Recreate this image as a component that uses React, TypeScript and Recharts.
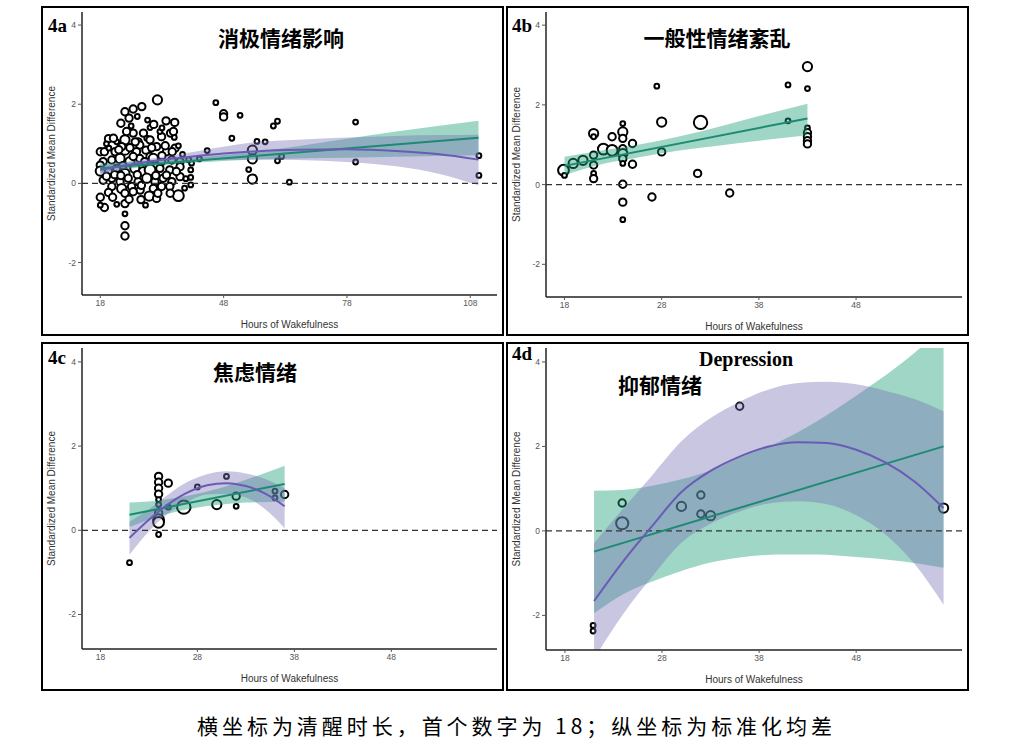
import React from 'react'
import { ComposedChart, Scatter, Area, Line, XAxis, YAxis, ZAxis, ReferenceLine } from 'recharts'

type Pt = { x: number; y: number; w: number }
type Fit = { x: number; y: number }
type Band = { x: number; lo: number; hi: number }

// ---------- 4a 消极情绪影响 ----------
const negAffectPoints: Pt[] = [
  { x: 31.9, y: 2.11, w: 3 }, { x: 28.1, y: 1.94, w: 2 }, { x: 26.0, y: 1.88, w: 2 }, { x: 24.0, y: 1.81, w: 2 },
  { x: 25.0, y: 1.65, w: 2 }, { x: 27.0, y: 1.69, w: 1 }, { x: 23.0, y: 1.52, w: 2 }, { x: 30.1, y: 1.41, w: 1 },
  { x: 31.0, y: 1.49, w: 2 }, { x: 34.0, y: 1.58, w: 2 }, { x: 36.1, y: 1.54, w: 2 }, { x: 35.1, y: 1.27, w: 2 },
  { x: 36.0, y: 1.16, w: 1 }, { x: 26.0, y: 1.27, w: 2 }, { x: 29.3, y: 1.14, w: 1 }, { x: 20.0, y: 1.13, w: 2 },
  { x: 22.0, y: 1.05, w: 1 }, { x: 24.0, y: 1.10, w: 3 }, { x: 27.2, y: 1.05, w: 2 }, { x: 30.1, y: 1.10, w: 2 },
  { x: 32.9, y: 1.18, w: 2 }, { x: 18.0, y: 0.80, w: 2 }, { x: 19.0, y: 0.80, w: 2 }, { x: 20.1, y: 0.89, w: 1 },
  { x: 21.6, y: 0.80, w: 2 }, { x: 24.0, y: 0.84, w: 3 }, { x: 25.2, y: 0.90, w: 2 }, { x: 27.6, y: 0.97, w: 2 },
  { x: 29.1, y: 0.84, w: 2 }, { x: 31.7, y: 0.93, w: 2 }, { x: 34.1, y: 0.80, w: 2 }, { x: 36.2, y: 0.89, w: 2 },
  { x: 38.0, y: 0.73, w: 1 }, { x: 18.7, y: 0.55, w: 2 }, { x: 20.8, y: 0.59, w: 2 }, { x: 22.8, y: 0.63, w: 3 },
  { x: 25.2, y: 0.55, w: 3 }, { x: 27.6, y: 0.63, w: 2 }, { x: 30.1, y: 0.68, w: 2 }, { x: 30.9, y: 0.63, w: 3 },
  { x: 32.9, y: 0.55, w: 2 }, { x: 35.4, y: 0.59, w: 2 }, { x: 37.4, y: 0.55, w: 2 }, { x: 40.2, y: 0.51, w: 1 },
  { x: 18.0, y: 0.46, w: 2 }, { x: 18.0, y: 0.31, w: 3 }, { x: 20.0, y: 0.30, w: 2 }, { x: 22.0, y: 0.38, w: 2 },
  { x: 24.0, y: 0.25, w: 3 }, { x: 26.4, y: 0.38, w: 3 }, { x: 28.5, y: 0.30, w: 3 }, { x: 30.1, y: 0.34, w: 4 },
  { x: 32.5, y: 0.38, w: 2 }, { x: 34.9, y: 0.34, w: 2 }, { x: 37.4, y: 0.42, w: 2 }, { x: 40.0, y: 0.34, w: 1 },
  { x: 18.7, y: 0.08, w: 2 }, { x: 20.8, y: 0.13, w: 2 }, { x: 22.8, y: 0.04, w: 2 }, { x: 24.8, y: 0.13, w: 2 },
  { x: 27.2, y: 0.04, w: 2 }, { x: 29.3, y: 0.13, w: 3 }, { x: 31.3, y: 0.04, w: 2 }, { x: 33.3, y: 0.13, w: 2 },
  { x: 35.4, y: 0.04, w: 2 }, { x: 37.4, y: 0.17, w: 2 }, { x: 40.0, y: -0.04, w: 1 }, { x: 20.8, y: -0.08, w: 2 },
  { x: 23.2, y: -0.13, w: 3 }, { x: 25.6, y: -0.08, w: 2 }, { x: 27.7, y: -0.17, w: 2 }, { x: 30.9, y: -0.13, w: 2 },
  { x: 32.9, y: -0.08, w: 2 }, { x: 34.9, y: -0.08, w: 2 }, { x: 37.0, y: -0.31, w: 4 }, { x: 18.0, y: -0.35, w: 2 },
  { x: 20.0, y: -0.23, w: 2 }, { x: 24.0, y: -0.25, w: 2 }, { x: 26.0, y: -0.21, w: 2 }, { x: 27.9, y: -0.41, w: 2 },
  { x: 29.9, y: -0.32, w: 3 }, { x: 31.7, y: -0.38, w: 2 }, { x: 19.0, y: -0.61, w: 2 }, { x: 18.0, y: -0.55, w: 1 },
  { x: 22.0, y: -0.53, w: 1 }, { x: 24.0, y: -0.51, w: 2 }, { x: 24.0, y: -0.77, w: 1 }, { x: 24.0, y: -1.07, w: 2 },
  { x: 24.0, y: -1.33, w: 2 }, { x: 34.1, y: 0.21, w: 2 }, { x: 21.2, y: 1.14, w: 2 }, { x: 28.5, y: 1.27, w: 2 },
  { x: 32.5, y: 1.31, w: 1 }, { x: 35.8, y: 1.31, w: 2 }, { x: 26.8, y: 0.80, w: 2 }, { x: 24.4, y: 1.31, w: 2 },
  { x: 23.2, y: 0.93, w: 2 }, { x: 42.1, y: 0.62, w: 1 },
  { x: 19.5, y: 0.18, w: 2 }, { x: 21.5, y: 0.22, w: 2 }, { x: 23.5, y: 0.45, w: 2 }, { x: 26.0, y: 0.68, w: 2 },
  { x: 28.8, y: 0.55, w: 2 }, { x: 31.5, y: 0.20, w: 2 }, { x: 33.8, y: 0.95, w: 2 }, { x: 36.5, y: 0.30, w: 2 },
  { x: 38.8, y: 0.12, w: 1 }, { x: 39.5, y: 0.60, w: 1 }, { x: 22.5, y: 0.85, w: 2 }, { x: 26.5, y: 1.05, w: 2 },
  { x: 28.0, y: -0.05, w: 2 }, { x: 30.5, y: 0.90, w: 2 }, { x: 33.0, y: 0.70, w: 2 }, { x: 35.0, y: -0.25, w: 2 },
  { x: 38.5, y: -0.12, w: 1 }, { x: 21.0, y: -0.35, w: 2 }, { x: 25.0, y: -0.40, w: 2 }, { x: 29.0, y: -0.55, w: 1 },
  { x: 32.0, y: -0.25, w: 2 }, { x: 19.5, y: 1.00, w: 1 }, { x: 25.5, y: 1.45, w: 1 }, { x: 29.5, y: 1.60, w: 1 },
  { x: 33.0, y: 1.40, w: 1 }, { x: 37.0, y: 0.95, w: 1 }, { x: 40.0, y: 0.15, w: 1 }, { x: 27.0, y: 0.22, w: 2 },
  { x: 23.0, y: 0.20, w: 2 }, { x: 35.5, y: 0.80, w: 2 },
  { x: 46.1, y: 2.04, w: 1 }, { x: 48.0, y: 1.76, w: 2 }, { x: 48.0, y: 1.68, w: 2 }, { x: 52.0, y: 1.72, w: 1 },
  { x: 50.0, y: 1.14, w: 1 }, { x: 44.0, y: 0.83, w: 1 }, { x: 55.0, y: 0.84, w: 3 }, { x: 55.0, y: 0.62, w: 3 },
  { x: 55.0, y: 0.11, w: 3 }, { x: 54.1, y: 0.35, w: 1 }, { x: 56.1, y: 1.06, w: 1 }, { x: 58.1, y: 1.05, w: 1 },
  { x: 60.1, y: 1.45, w: 1 }, { x: 61.1, y: 1.57, w: 1 }, { x: 61.1, y: 0.57, w: 1 }, { x: 62.1, y: 0.68, w: 1 },
  { x: 64.0, y: 0.03, w: 1 }, { x: 80.1, y: 1.55, w: 1 }, { x: 80.1, y: 0.54, w: 1 }, { x: 110.1, y: 0.70, w: 1 },
  { x: 110.1, y: 0.20, w: 1 },
]
const negGreenFit: Fit[] = [{ x: 18, y: 0.38 }, { x: 110, y: 1.15 }]
const negGreenBand: Band[] = [
  { x: 18, lo: 0.26, hi: 0.50 }, { x: 30, lo: 0.43, hi: 0.58 }, { x: 42, lo: 0.53, hi: 0.66 },
  { x: 54, lo: 0.60, hi: 0.78 }, { x: 66, lo: 0.63, hi: 0.94 }, { x: 78, lo: 0.65, hi: 1.13 },
  { x: 90, lo: 0.67, hi: 1.31 }, { x: 110, lo: 0.71, hi: 1.58 },
]
const negPurpleFit: Fit[] = [
  { x: 18, y: 0.34 }, { x: 30, y: 0.55 }, { x: 42, y: 0.70 }, { x: 54, y: 0.80 }, { x: 66, y: 0.85 },
  { x: 78, y: 0.86 }, { x: 90, y: 0.82 }, { x: 100, y: 0.74 }, { x: 110, y: 0.60 },
]
const negPurpleBand: Band[] = [
  { x: 18, lo: 0.22, hi: 0.45 }, { x: 30, lo: 0.47, hi: 0.62 }, { x: 42, lo: 0.58, hi: 0.82 },
  { x: 54, lo: 0.60, hi: 1.02 }, { x: 66, lo: 0.59, hi: 1.10 }, { x: 78, lo: 0.54, hi: 1.16 },
  { x: 90, lo: 0.43, hi: 1.20 }, { x: 100, lo: 0.25, hi: 1.22 }, { x: 110, lo: -0.05, hi: 1.23 },
]

// ---------- 4b 一般性情绪紊乱 ----------
const moodPoints: Pt[] = [
  { x: 17.9, y: 0.36, w: 4 }, { x: 18.0, y: 0.23, w: 1 }, { x: 18.9, y: 0.53, w: 3 }, { x: 19.9, y: 0.61, w: 3 },
  { x: 21.0, y: 1.28, w: 3 }, { x: 21.0, y: 1.20, w: 1 }, { x: 21.0, y: 0.74, w: 2 }, { x: 21.0, y: 0.49, w: 2 },
  { x: 21.0, y: 0.28, w: 1 }, { x: 21.0, y: 0.15, w: 2 }, { x: 22.0, y: 0.89, w: 4 }, { x: 22.9, y: 1.20, w: 2 },
  { x: 22.9, y: 0.86, w: 4 }, { x: 24.0, y: 1.53, w: 1 }, { x: 24.0, y: 1.32, w: 3 }, { x: 24.0, y: 1.16, w: 2 },
  { x: 24.0, y: 0.90, w: 2 }, { x: 24.0, y: 0.78, w: 3 }, { x: 24.0, y: 0.65, w: 2 }, { x: 24.0, y: 0.53, w: 1 },
  { x: 24.0, y: 0.01, w: 2 }, { x: 24.0, y: -0.44, w: 2 }, { x: 24.0, y: -0.88, w: 1 }, { x: 25.0, y: 1.03, w: 2 },
  { x: 25.0, y: 0.51, w: 2 }, { x: 27.0, y: -0.31, w: 2 }, { x: 27.5, y: 2.47, w: 1 }, { x: 28.0, y: 1.57, w: 3 },
  { x: 28.0, y: 0.82, w: 2 }, { x: 31.7, y: 0.28, w: 2 }, { x: 32.0, y: 1.56, w: 6 }, { x: 35.0, y: -0.21, w: 2 },
  { x: 41.0, y: 2.50, w: 1 }, { x: 41.0, y: 1.60, w: 1 }, { x: 43.0, y: 2.96, w: 3 }, { x: 43.0, y: 2.41, w: 1 },
  { x: 43.0, y: 1.42, w: 1 }, { x: 43.0, y: 1.30, w: 2 }, { x: 43.0, y: 1.20, w: 2 }, { x: 43.0, y: 1.10, w: 2 },
  { x: 43.0, y: 1.02, w: 2 },
]
const moodGreenFit: Fit[] = [{ x: 18, y: 0.47 }, { x: 43, y: 1.66 }]
const moodGreenBand: Band[] = [
  { x: 18, lo: 0.24, hi: 0.70 }, { x: 22, lo: 0.52, hi: 0.86 }, { x: 26, lo: 0.70, hi: 1.02 },
  { x: 30, lo: 0.86, hi: 1.22 }, { x: 34, lo: 0.98, hi: 1.46 }, { x: 38, lo: 1.10, hi: 1.72 },
  { x: 43, lo: 1.24, hi: 2.03 },
]

// ---------- 4c 焦虑情绪 ----------
const anxietyPoints: Pt[] = [
  { x: 21.0, y: -0.77, w: 1 }, { x: 24.0, y: -0.10, w: 1 }, { x: 24.0, y: 1.28, w: 2 }, { x: 24.0, y: 1.14, w: 2 },
  { x: 24.0, y: 1.00, w: 2 }, { x: 24.0, y: 0.86, w: 2 }, { x: 24.0, y: 0.73, w: 1 }, { x: 24.0, y: 0.61, w: 1 },
  { x: 24.0, y: 0.41, w: 2 }, { x: 24.0, y: 0.25, w: 4 }, { x: 24.0, y: 0.19, w: 4 }, { x: 25.0, y: 1.12, w: 2 },
  { x: 25.0, y: 0.55, w: 1 }, { x: 26.6, y: 0.55, w: 6 }, { x: 28.0, y: 1.03, w: 1 }, { x: 30.0, y: 0.61, w: 3 },
  { x: 31.0, y: 1.28, w: 1 }, { x: 32.0, y: 0.81, w: 2 }, { x: 32.0, y: 0.57, w: 1 }, { x: 36.0, y: 0.93, w: 1 },
  { x: 36.0, y: 0.77, w: 1 }, { x: 37.0, y: 0.85, w: 2 },
]
const anxGreenFit: Fit[] = [{ x: 21, y: 0.37 }, { x: 37, y: 1.10 }]
const anxGreenBand: Band[] = [
  { x: 21, lo: 0.08, hi: 0.66 }, { x: 24, lo: 0.33, hi: 0.71 }, { x: 27, lo: 0.50, hi: 0.82 },
  { x: 30, lo: 0.60, hi: 0.98 }, { x: 33, lo: 0.66, hi: 1.20 }, { x: 37, lo: 0.68, hi: 1.53 },
]
const anxPurpleFit: Fit[] = [
  { x: 21, y: -0.18 }, { x: 23, y: 0.25 }, { x: 25, y: 0.62 }, { x: 27, y: 0.90 }, { x: 29, y: 1.07 },
  { x: 31, y: 1.12 }, { x: 33, y: 1.05 }, { x: 35, y: 0.87 }, { x: 37, y: 0.57 },
]
const anxPurpleBand: Band[] = [
  { x: 21, lo: -0.58, hi: 0.20 }, { x: 23, lo: -0.02, hi: 0.50 }, { x: 25, lo: 0.40, hi: 0.85 },
  { x: 27, lo: 0.68, hi: 1.15 }, { x: 29, lo: 0.85, hi: 1.33 }, { x: 31, lo: 0.86, hi: 1.40 },
  { x: 33, lo: 0.78, hi: 1.35 }, { x: 35, lo: 0.50, hi: 1.22 }, { x: 37, lo: 0.05, hi: 1.00 },
]

// ---------- 4d Depression 抑郁情绪 ----------
const depressionPoints: Pt[] = [
  { x: 20.9, y: -2.24, w: 1 }, { x: 20.9, y: -2.37, w: 1 }, { x: 23.9, y: 0.66, w: 2 }, { x: 23.9, y: 0.18, w: 5 },
  { x: 30.0, y: 0.58, w: 3 }, { x: 32.0, y: 0.85, w: 2 }, { x: 32.0, y: 0.40, w: 2 }, { x: 33.0, y: 0.36, w: 3 },
  { x: 36.0, y: 2.95, w: 2 }, { x: 57.0, y: 0.54, w: 3 },
]
const depGreenFit: Fit[] = [{ x: 21, y: -0.49 }, { x: 57, y: 2.0 }]
const depGreenBand: Band[] = [
  { x: 21, lo: -1.95, hi: 0.95 }, { x: 24, lo: -1.50, hi: 0.97 }, { x: 27, lo: -1.20, hi: 1.07 },
  { x: 30, lo: -0.95, hi: 1.22 }, { x: 33, lo: -0.75, hi: 1.43 }, { x: 36, lo: -0.63, hi: 1.73 },
  { x: 40, lo: -0.56, hi: 2.10 }, { x: 44, lo: -0.56, hi: 2.60 }, { x: 48, lo: -0.62, hi: 3.20 },
  { x: 52, lo: -0.70, hi: 3.85 }, { x: 57, lo: -0.87, hi: 4.80 },
]
const depPurpleFit: Fit[] = [
  { x: 21, y: -1.66 }, { x: 24, y: -0.72 }, { x: 27, y: 0.12 }, { x: 30, y: 0.92 }, { x: 33, y: 1.42 },
  { x: 36, y: 1.76 }, { x: 39, y: 2.00 }, { x: 42, y: 2.10 }, { x: 45, y: 2.08 }, { x: 48, y: 1.92 },
  { x: 51, y: 1.62 }, { x: 54, y: 1.17 }, { x: 57, y: 0.54 },
]
const depPurpleBand: Band[] = [
  { x: 21, lo: -3.03, hi: -0.29 }, { x: 24, lo: -1.97, hi: 0.53 }, { x: 27, lo: -1.08, hi: 1.32 },
  { x: 30, lo: -0.28, hi: 2.12 }, { x: 33, lo: 0.17, hi: 2.67 }, { x: 36, lo: 0.46, hi: 3.06 },
  { x: 39, lo: 0.65, hi: 3.35 }, { x: 42, lo: 0.70, hi: 3.50 }, { x: 45, lo: 0.63, hi: 3.53 },
  { x: 48, lo: 0.37, hi: 3.47 }, { x: 51, lo: -0.08, hi: 3.32 }, { x: 54, lo: -0.78, hi: 3.12 },
  { x: 57, lo: -1.75, hi: 2.83 },
]

const wideTicks = [18, 48, 78, 108]
const shortTicks = [18, 28, 38, 48]
const yTicks = [-2, 0, 2, 4]

const Y_DOMAIN: [number, number] = [-2.82, 4.33]
const AXIS_W = 30
const AXIS_H = 30
const GREEN = '#1b9e77'
const GREEN_LINE = '#1d8a72'
const PURPLE = '#7570b3'
const PURPLE_LINE = '#6a5bb5'
const SANS = '"Liberation Sans", Arial, sans-serif'
const SERIF = '"Liberation Serif", "Times New Roman", serif'
const CJK = '"Noto Sans CJK SC", sans-serif'

type Box = { x: number; y: number; w: number; h: number }
type Plot = { l: number; t: number; r: number; b: number }

interface PanelProps {
  box: Box
  plot: Plot
  xDomain: [number, number]
  xTicks: number[]
  points: Pt[]
  greenFit: Fit[]
  greenBand: Band[]
  purpleFit?: Fit[]
  purpleBand?: Band[]
}

function Panel({ box, plot, xDomain, xTicks, points, greenFit, greenBand, purpleFit, purpleBand }: PanelProps) {
  const margin = {
    top: plot.t - box.y,
    right: box.x + box.w - plot.r,
    bottom: box.y + box.h - plot.b - AXIS_H,
    left: plot.l - box.x - AXIS_W,
  }
  const tick = { fontSize: 8.5, fill: '#555', fontFamily: SANS }
  return (
    <div style={{ position: 'absolute', left: box.x, top: box.y }}>
      <ComposedChart width={box.w} height={box.h} margin={margin}>
        <XAxis
          type="number"
          dataKey="x"
          domain={xDomain}
          ticks={xTicks}
          interval={0}
          allowDataOverflow
          height={AXIS_H}
          tick={tick}
          tickSize={3}
          tickMargin={2}
          axisLine={{ stroke: '#222', strokeWidth: 1.5 }}
          tickLine={{ stroke: '#555' }}
        />
        <YAxis
          type="number"
          dataKey="y"
          domain={Y_DOMAIN}
          ticks={yTicks}
          interval={0}
          allowDataOverflow
          width={AXIS_W}
          tick={tick}
          tickSize={4}
          tickMargin={2}
          axisLine={{ stroke: '#222', strokeWidth: 1.5 }}
          tickLine={{ stroke: '#555' }}
        />
        <ZAxis type="number" dataKey="w" domain={[1, 8]} range={[18, 190]} />
        <ReferenceLine y={0} stroke="#333" strokeDasharray="6 4" strokeWidth={1.3} />
        <Scatter data={points} fill="#fff" stroke="#000" strokeWidth={2} isAnimationActive={false} zIndex={50} />
        <Area
          data={greenBand}
          dataKey={(d: Band) => [d.lo, d.hi]}
          type="monotone"
          fill={GREEN}
          fillOpacity={0.42}
          stroke="none"
          isAnimationActive={false}
          zIndex={100}
        />
        {purpleBand && (
          <Area
            data={purpleBand}
            dataKey={(d: Band) => [d.lo, d.hi]}
            type="monotone"
            fill={PURPLE}
            fillOpacity={0.4}
            stroke="none"
            isAnimationActive={false}
            zIndex={101}
          />
        )}
        <Line data={greenFit} dataKey="y" type="linear" stroke={GREEN_LINE} strokeWidth={2} dot={false} isAnimationActive={false} zIndex={400} />
        {purpleFit && (
          <Line data={purpleFit} dataKey="y" type="monotone" stroke={PURPLE_LINE} strokeWidth={2} dot={false} isAnimationActive={false} zIndex={401} />
        )}
      </ComposedChart>
    </div>
  )
}

const boxA: Box = { x: 41, y: 6, w: 463, h: 330 }
const boxB: Box = { x: 506, y: 6, w: 463, h: 330 }
const boxC: Box = { x: 41, y: 342, w: 463, h: 349 }
const boxD: Box = { x: 506, y: 342, w: 463, h: 349 }
const plotA: Plot = { l: 82, t: 12, r: 497, b: 295 }
const plotB: Plot = { l: 546, t: 12, r: 962, b: 297 }
const plotC: Plot = { l: 82, t: 348, r: 497, b: 649 }
const plotD: Plot = { l: 546, t: 348, r: 962, b: 650 }

function AxisTitles({ box, plot }: { box: Box; plot: Plot }) {
  const cy = (plot.t + plot.b) / 2
  const lx = box.x + 14
  return (
    <g fontFamily={SANS} fontSize={10} fill="#333">
      <text x={lx} y={cy} textAnchor="middle" transform={`rotate(-90 ${lx} ${cy})`}>
        Standardized Mean Difference
      </text>
      <text x={(plot.l + plot.r) / 2} y={plot.b + 33} textAnchor="middle">
        Hours of Wakefulness
      </text>
    </g>
  )
}

export default function App() {
  const boxes = [boxA, boxB, boxC, boxD]
  return (
    <div style={{ position: 'absolute', left: 0, top: 0, width: 1016, height: 750, background: '#fff' }}>
      <Panel box={boxA} plot={plotA} xDomain={[13.55, 114.5]} xTicks={wideTicks} points={negAffectPoints}
        greenFit={negGreenFit} greenBand={negGreenBand} purpleFit={negPurpleFit} purpleBand={negPurpleBand} />
      <Panel box={boxB} plot={plotB} xDomain={[16.1, 58.9]} xTicks={shortTicks} points={moodPoints}
        greenFit={moodGreenFit} greenBand={moodGreenBand} />
      <Panel box={boxC} plot={plotC} xDomain={[16.1, 58.9]} xTicks={shortTicks} points={anxietyPoints}
        greenFit={anxGreenFit} greenBand={anxGreenBand} purpleFit={anxPurpleFit} purpleBand={anxPurpleBand} />
      <Panel box={boxD} plot={plotD} xDomain={[16.05, 58.9]} xTicks={shortTicks} points={depressionPoints}
        greenFit={depGreenFit} greenBand={depGreenBand} purpleFit={depPurpleFit} purpleBand={depPurpleBand} />

      <svg width={1016} height={750} style={{ position: 'absolute', left: 0, top: 0, pointerEvents: 'none' }}>
        {boxes.map((b, i) => (
          <rect key={i} x={b.x + 1} y={b.y + 1} width={b.w - 2} height={b.h - 2} fill="none" stroke="#000" strokeWidth={2} />
        ))}
        <AxisTitles box={boxA} plot={plotA} />
        <AxisTitles box={boxB} plot={plotB} />
        <AxisTitles box={boxC} plot={plotC} />
        <AxisTitles box={boxD} plot={plotD} />

        <g fontFamily={SERIF} fontWeight={700} fontSize={19} fill="#000">
          <text x={48} y={31.5}>4a</text>
          <text x={512} y={31.5}>4b</text>
          <text x={48} y={364}>4c</text>
          <text x={512} y={360}>4d</text>
        </g>
        <text x={746} y={366} textAnchor="middle" fontFamily={SERIF} fontWeight={700} fontSize={20}>Depression</text>

        <g fontFamily={CJK} fontWeight={700} fontSize={21} fill="#000" textAnchor="middle">
          <text x={281} y={46}>消极情绪影响</text>
          <text x={717} y={46}>一般性情绪紊乱</text>
          <text x={255} y={380}>焦虑情绪</text>
          <text x={660} y={393}>抑郁情绪</text>
        </g>

        <text x={197} y={734} fontFamily={CJK} fontSize={21} fill="#000" textLength={635} lengthAdjust="spacing">
          横坐标为清醒时长，首个数字为 18；纵坐标为标准化均差
        </text>
      </svg>
    </div>
  )
}
